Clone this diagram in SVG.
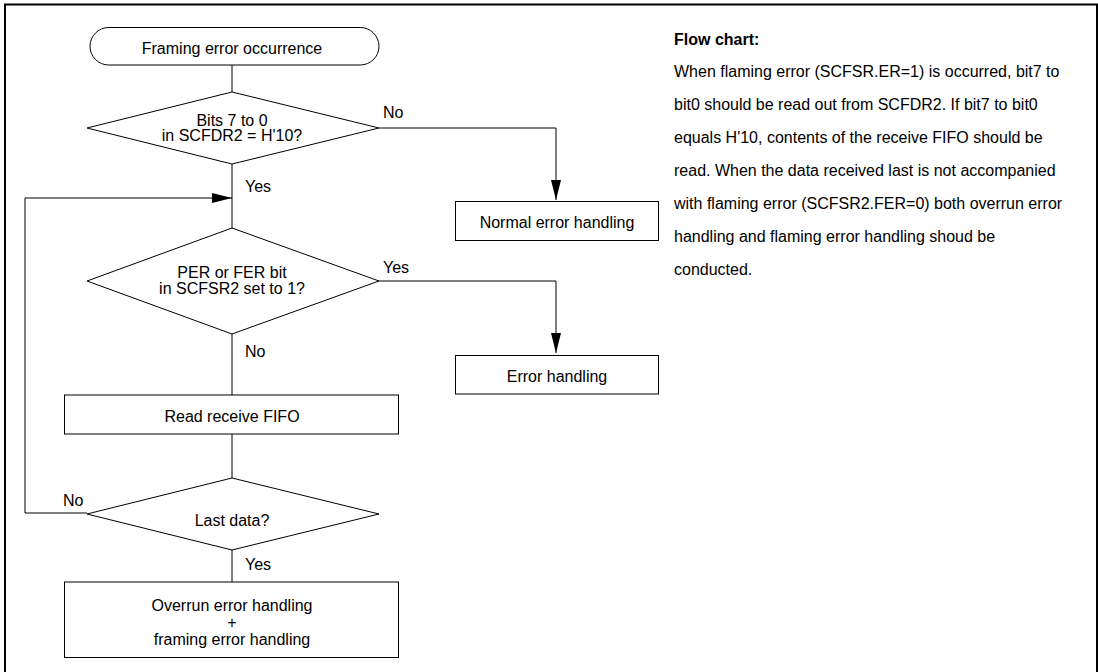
<svg xmlns="http://www.w3.org/2000/svg" width="1098" height="672" viewBox="0 0 1098 672">
<style>
text{font-family:"Liberation Sans",Arial,sans-serif;font-size:16px;fill:#000}
.c{text-anchor:middle}
.b{font-weight:bold}
.s{fill:#fff;stroke:#000;stroke-width:1}
.l{fill:none;stroke:#000;stroke-width:1}
</style>
<defs>
<marker id="ah" markerWidth="20" markerHeight="10" refX="20" refY="5" orient="auto" markerUnits="userSpaceOnUse">
<path d="M0,0 L20,5 L0,10 Z" fill="#000"/>
</marker>
</defs>
<rect x="5" y="4.5" width="1092" height="690" fill="none" stroke="#000" stroke-width="2"/>
<g id="connectors">
<path class="l" d="M232,65 V92"/>
<path class="l" d="M232,164 V228"/>
<path class="l" d="M232,334 V395"/>
<path class="l" d="M232,434 V478"/>
<path class="l" d="M232,550 V582"/>
<path class="l" d="M379,128 H556 V200" marker-end="url(#ah)"/>
<path class="l" d="M379,281 H556 V353" marker-end="url(#ah)"/>
<path class="l" d="M87,513 H25 V198 H232" marker-end="url(#ah)"/>
<text x="383" y="118">No</text>
<text x="245" y="192">Yes</text>
<text x="383" y="273">Yes</text>
<text x="245" y="357">No</text>
<text x="63" y="506">No</text>
<text x="245" y="570">Yes</text>
</g>
<g id="start">
<rect class="s" x="90" y="27.5" width="289" height="37.5" rx="18.75" ry="18.75"/>
<text class="c" x="232" y="54">Framing error occurrence</text>
</g>
<g id="d1">
<polygon class="s" points="232,92 379,128 232,164 87,128"/>
<text class="c" x="232" y="125.5">Bits 7 to 0</text>
<text class="c" x="232" y="140.5">in SCFDR2 = H'10?</text>
</g>
<g id="normal">
<rect class="s" x="455.5" y="201.5" width="203" height="39"/>
<text class="c" x="557" y="228">Normal error handling</text>
</g>
<g id="d2">
<polygon class="s" points="232,228 379,281 232,334 87,281"/>
<text class="c" x="232" y="278">PER or FER bit</text>
<text class="c" x="232" y="294">in SCFSR2 set to 1?</text>
</g>
<g id="err">
<rect class="s" x="455.5" y="355.5" width="203" height="38.5"/>
<text class="c" x="557" y="382">Error handling</text>
</g>
<g id="read">
<rect class="s" x="64.5" y="395" width="334" height="39"/>
<text class="c" x="232" y="422">Read receive FIFO</text>
</g>
<g id="d3">
<polygon class="s" points="232,478 379,514 232,550 87,514"/>
<text class="c" x="232" y="526">Last data?</text>
</g>
<g id="final">
<rect class="s" x="64.5" y="582" width="334" height="75.5"/>
<text class="c" x="232" y="611">Overrun error handling</text>
<text class="c" x="232" y="628">+</text>
<text class="c" x="232" y="645">framing error handling</text>
</g>
<g id="note">
<text class="b" x="674" y="45">Flow chart:</text>
<text x="674" y="77">When flaming error (SCFSR.ER=1) is occurred, bit7 to</text>
<text x="674" y="110">bit0 should be read out from SCFDR2. If bit7 to bit0</text>
<text x="674" y="143">equals H'10, contents of the receive FIFO should be</text>
<text x="674" y="176">read. When the data received last is not accompanied</text>
<text x="674" y="209">with flaming error (SCFSR2.FER=0) both overrun error</text>
<text x="674" y="242">handling and flaming error handling shoud be</text>
<text x="674" y="275">conducted.</text>
</g>
</svg>
